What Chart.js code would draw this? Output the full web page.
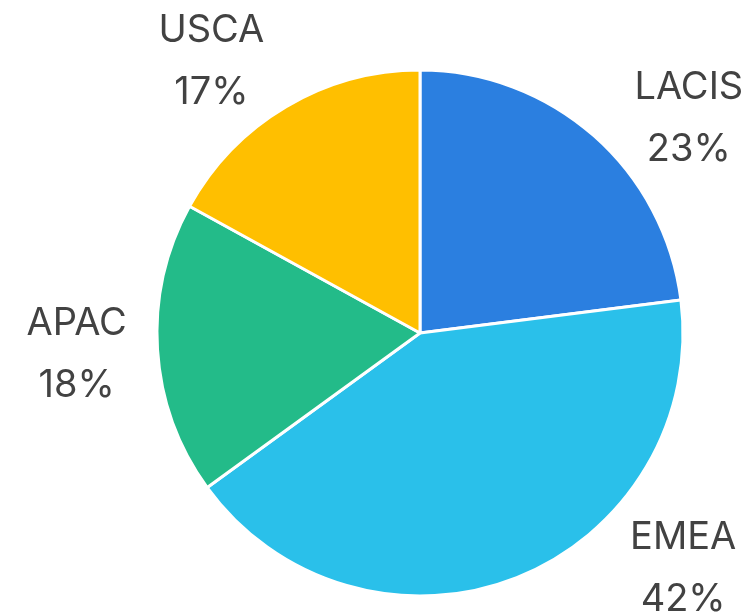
<!DOCTYPE html>
<html>
<head>
<meta charset="utf-8">
<script src="https://cdn.jsdelivr.net/npm/chart.js@4"></script>
<style>
  html, body { margin: 0; padding: 0; background: #fff; }
  #wrap { width: 750px; height: 616px; }
</style>
</head>
<body>
<div id="wrap"><canvas id="myChart" width="750" height="616"></canvas></div>
<script>
// data
var regions = ["LACIS", "EMEA", "APAC", "USCA"];
var shares = [23, 42, 18, 17];
var colours = ["#2B7FE0", "#2AC0EA", "#23BB89", "#FFBF00"];

// label placement tweaks (degrees off the slice middle, distance from centre)
var labelTurn = [10, -26.6, 0, -7];
var labelDist = [344, 353, 344, 342];

var outsideLabels = {
    id: "outsideLabels",
    afterDatasetsDraw: function(chart){
        var ctx = chart.ctx;
        var meta = chart.getDatasetMeta(0);
        var total = shares.reduce(function(a, b){ return a + b; }, 0);
        ctx.save();
        ctx.fillStyle = "#424242";
        ctx.font = "normal 38px Inter, 'Open Sans', sans-serif";
        ctx.textAlign = "center";
        ctx.textBaseline = "middle";
        meta.data.forEach(function(arc, i){
            var p = arc.getProps(["x", "y", "startAngle", "endAngle"], true);
            var mid = (p.startAngle + p.endAngle) / 2 + labelTurn[i] * Math.PI / 180;
            var lx = p.x + Math.cos(mid) * labelDist[i];
            var ly = p.y + Math.sin(mid) * labelDist[i];
            var pct = Math.round(shares[i] / total * 100) + "%";
            ctx.fillText(regions[i], lx, ly - 31);
            ctx.fillText(pct, lx, ly + 31);
        });
        ctx.restore();
    }
};

var chart = new Chart(document.getElementById("myChart"), {
    type: "pie",
    data: {
        labels: regions,
        datasets: [{
            data: shares,
            backgroundColor: colours,
            borderColor: "#ffffff",
            borderWidth: 3
        }]
    },
    options: {
        responsive: false,
        animation: false,
        layout: { padding: { top: 68.5, bottom: 18.5, left: 153, right: 63 } },
        plugins: {
            legend: { display: false },
            tooltip: { enabled: false }
        }
    },
    plugins: [outsideLabels]
});
</script>
</body>
</html>
